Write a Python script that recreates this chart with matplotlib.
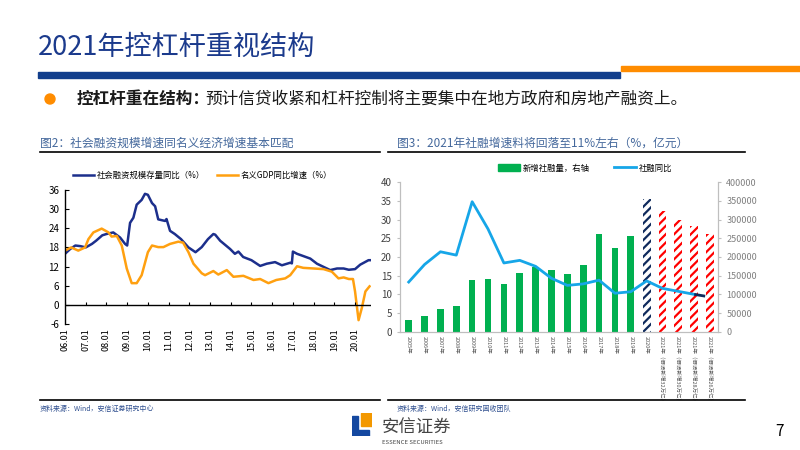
import matplotlib
matplotlib.use("Agg")
import matplotlib.pyplot as plt
from matplotlib.patches import Rectangle, Ellipse
from matplotlib.lines import Line2D
from matplotlib.patches import Patch

plt.rcParams['font.family'] = ['Noto Sans CJK SC', 'DejaVu Sans']
plt.rcParams['hatch.linewidth'] = 1.6
plt.rcParams['axes.unicode_minus'] = False

# ---- data: left chart (decimal year, %)
tsf_dates = [2006.00, 2006.25, 2006.50, 2006.75, 2007.00, 2007.30, 2007.50, 2007.80,
             2008.00, 2008.33, 2008.66, 2008.90, 2009.00, 2009.14, 2009.30, 2009.46,
             2009.70, 2009.86, 2010.00, 2010.20, 2010.35, 2010.50, 2010.83, 2010.90,
             2011.07, 2011.30, 2011.60, 2011.96, 2012.30, 2012.60, 2012.90, 2013.16,
             2013.25, 2013.49, 2013.97, 2014.20, 2014.37, 2014.60, 2015.00, 2015.42,
             2015.74, 2016.14, 2016.47, 2016.87, 2016.95, 2017.00, 2017.20, 2017.50,
             2017.84, 2018.16, 2018.48, 2018.80, 2019.13, 2019.45, 2019.70, 2020.00,
             2020.25, 2020.65, 2020.77]
tsf_yoy = [16.0, 17.5, 18.6, 18.4, 18.0, 19.1, 20.1, 21.8,
           22.2, 22.7, 21.1, 19.1, 18.6, 25.7, 27.3, 31.4,
           32.9, 34.8, 34.5, 31.9, 30.9, 26.8, 26.3, 26.9,
           23.2, 22.2, 20.6, 18.0, 16.5, 18.1, 20.6, 22.2,
           22.0, 20.1, 17.5, 16.0, 16.7, 15.0, 14.0, 12.2,
           12.9, 13.4, 12.4, 13.2, 13.0, 16.7, 16.0, 15.3,
           14.5, 12.9, 11.9, 10.9, 11.4, 11.4, 11.0, 11.2,
           12.6, 14.0, 14.0]

gdp_dates = [2006.00, 2006.30, 2006.64, 2006.97, 2007.13, 2007.37, 2007.77, 2008.10,
             2008.25, 2008.50, 2008.74, 2008.98, 2009.22, 2009.46, 2009.70, 2010.00,
             2010.20, 2010.50, 2010.75, 2011.07, 2011.47, 2011.70, 2011.96, 2012.20,
             2012.60, 2012.76, 2013.16, 2013.40, 2013.81, 2014.13, 2014.61, 2015.10,
             2015.42, 2015.82, 2016.20, 2016.63, 2016.87, 2017.20, 2017.50, 2018.00,
             2018.48, 2018.88, 2019.20, 2019.45, 2019.70, 2019.90, 2020.00, 2020.17,
             2020.33, 2020.50, 2020.70]
gdp_yoy = [17.0, 18.0, 17.0, 18.0, 20.6, 22.7, 23.9, 22.7,
           21.4, 21.6, 18.6, 11.4, 6.8, 6.8, 9.3, 16.5,
           18.6, 18.1, 18.1, 19.1, 19.8, 19.5, 16.5, 12.9,
           9.9, 9.3, 10.6, 9.5, 10.9, 8.8, 9.1, 7.8,
           8.1, 6.8, 7.8, 8.3, 9.3, 12.1, 11.6, 11.4,
           11.2, 10.4, 8.3, 8.6, 8.1, 8.1, 4.2, -4.8,
           -0.9, 4.2, 5.8]

left_ticks = list(range(2006, 2021))
left_ticklabels = ["%02d.01" % (y - 2000) for y in left_ticks]

# ---- data: right chart
cats = ["%d年" % y for y in range(2005, 2021)] + \
       ["2021年（假设新增%d万亿）" % v for v in (32, 30, 28, 26)]
new_tsf = [30000, 42000, 60000, 70000, 139000, 140000, 128000, 158000, 173000, 164000,
           154000, 178000, 262000, 225000, 255000, 355000, 323000, 300000, 282000, 262000]
tsf_growth = [13.3, 18.0, 21.4, 20.5, 34.8, 27.5, 18.4, 19.1, 17.5, 14.3,
              12.4, 12.8, 13.8, 10.3, 10.7, 13.6, 11.6, 10.8, 10.0, 9.3]

navy = '#1C2F8C'
orange = '#FFA010'

fig = plt.figure(figsize=(8, 4.5), dpi=100)
W, H = 800.0, 450.0


def fx(x):
    return x / W


def fy(y):
    return 1 - y / H


# ---- header
fig.text(fx(38), fy(47), "2021年控杠杆重视结构", fontsize=19.5, color='#1B3A8C', va='center')
fig.patches.append(Rectangle((fx(38), fy(78)), fx(620) - fx(38), 6 / H,
                             transform=fig.transFigure, color='#123E8C'))
fig.patches.append(Rectangle((fx(621), fy(71)), fx(800) - fx(621), 5 / H,
                             transform=fig.transFigure, color='#FF8C00'))
fig.patches.append(Ellipse((fx(50), fy(99)), 10 / W, 10 / H, transform=fig.transFigure,
                           color='#FF8C00'))
fig.text(fx(77), fy(99), "控杠杆重在结构：", fontsize=12, fontweight='bold',
         color='#1a1a1a', va='center')
fig.text(fx(77 + 128), fy(99), "预计信贷收紧和杠杆控制将主要集中在地方政府和房地产融资上。",
         fontsize=12, color='#1a1a1a', va='center')

# ---- chart titles, rules, sources
title_c = '#44689C'
fig.text(fx(40), fy(143), "图2：社会融资规模增速同名义经济增速基本匹配", fontsize=8.5,
         color=title_c, va='center')
fig.text(fx(397), fy(143), "图3：2021年社融增速料将回落至11%左右（%，亿元）", fontsize=8.5,
         color=title_c, va='center')
for x0, x1 in [(40, 380), (388, 745)]:
    fig.add_artist(Line2D([fx(x0), fx(x1)], [fy(152), fy(152)], color='black', lw=1.2))
    fig.add_artist(Line2D([fx(x0), fx(x1)], [fy(400), fy(400)], color='black', lw=1.2))
fig.text(fx(40), fy(409), "资料来源：Wind，安信证券研究中心", fontsize=5, color='#2F4F8F', va='center')
fig.text(fx(397), fy(409), "资料来源：Wind，安信研究固收团队", fontsize=5, color='#2F4F8F', va='center')

# ---- left chart
ax = fig.add_axes([fx(65), fy(324), fx(371) - fx(65), (324 - 190) / H])
ax.plot(tsf_dates, tsf_yoy, color=navy, lw=1.8, label="社会融资规模存量同比（%）")
ax.plot(gdp_dates, gdp_yoy, color=orange, lw=1.8, label="名义GDP同比增速（%）")
ax.set_xlim(2006, 2020.77)
ax.set_ylim(-6, 36)
ax.set_yticks(range(-6, 37, 6))
ax.set_xticks(left_ticks)
ax.set_xticklabels(left_ticklabels, rotation=90, fontsize=6.5)
ax.tick_params(axis='x', length=0, pad=3)
ax.tick_params(axis='y', direction='in', length=3, labelsize=7, pad=4)
for s in ['top', 'right', 'bottom']:
    ax.spines[s].set_visible(False)
ax.spines['left'].set_linewidth(1)
ax.axhline(0, color='black', lw=1)
ax.vlines(left_ticks, 0, 0.9, color='black', lw=0.8)
ax.legend(loc='lower center', bbox_to_anchor=(0.45, 1.02), ncol=2, frameon=False,
          fontsize=6, handlelength=2.5, columnspacing=1.5, handletextpad=0.3)

# ---- right chart
axl = fig.add_axes([fx(400), fy(331.7), fx(718) - fx(400), (331.7 - 182.3) / H])
axr = axl.twinx()
xs = list(range(len(cats)))
green = '#00B050'
axr.bar(xs[:15], new_tsf[:15], width=0.42, color=green, label="新增社融量，右轴")
axr.bar(xs[15:16], new_tsf[15:16], width=0.5, facecolor='white', edgecolor='#0F2A5C',
        hatch='////', linewidth=0)
axr.bar(xs[16:], new_tsf[16:], width=0.5, facecolor='white', edgecolor='#FF0000',
        hatch='////', linewidth=0)
axr.set_ylim(0, 400000)
axr.set_yticks(range(0, 400001, 50000))

line, = axl.plot(xs[:19], tsf_growth[:19], color='#16A6E8', lw=2, label="社融同比")
axl.plot(xs[18:], tsf_growth[18:], color='#0F2A5C', lw=2, dashes=(4, 2.5))
axl.set_zorder(axr.get_zorder() + 1)
axl.patch.set_visible(False)
axl.set_ylim(0, 40)
axl.set_yticks(range(0, 41, 5))
axl.set_xlim(-0.55, 19.5)
axl.set_xticks(xs)
axl.set_xticklabels(cats, rotation=-90, fontsize=4, color='#555555', va='top')
axl.tick_params(axis='x', length=0, pad=3)
axl.tick_params(axis='y', length=2.5, labelsize=7, labelcolor='#404040', color='#BFBFBF')
axr.tick_params(axis='y', length=2.5, labelsize=6.5, labelcolor='#808080', color='#BFBFBF')
for a in (axl, axr):
    a.spines['top'].set_visible(False)
    for s in ['left', 'right', 'bottom']:
        a.spines[s].set_color('#BFBFBF')
fig.legend(handles=[Patch(color=green, label="新增社融量，右轴"), line],
           loc='center', bbox_to_anchor=(fx(585), fy(168)), ncol=2, frameon=False,
           fontsize=6, handlelength=2.6, handleheight=0.8, columnspacing=3, handletextpad=0.3)

# ---- footer logo
lg = fig.add_axes([fx(352), fy(436), 20 / W, 23 / H])
lg.set_xlim(0, 1)
lg.set_ylim(0, 1)
lg.axis('off')
lg.add_patch(Rectangle((0.45, 0.45), 0.55, 0.55, color='#F39800'))
lg.add_patch(Rectangle((0, 0), 0.85, 0.28, color='#1448A0'))
lg.add_patch(Rectangle((0, 0), 0.3, 0.85, color='#1448A0'))
fig.text(fx(382), fy(428), "安信证券", fontsize=12.5, color='#444444', va='center')
fig.text(fx(382), fy(442), "ESSENCE SECURITIES", fontsize=4.3, color='#444444', va='center')
fig.text(fx(775), fy(432), "7", fontsize=11, color='black', va='center')

fig.savefig("out.png", dpi=100)
